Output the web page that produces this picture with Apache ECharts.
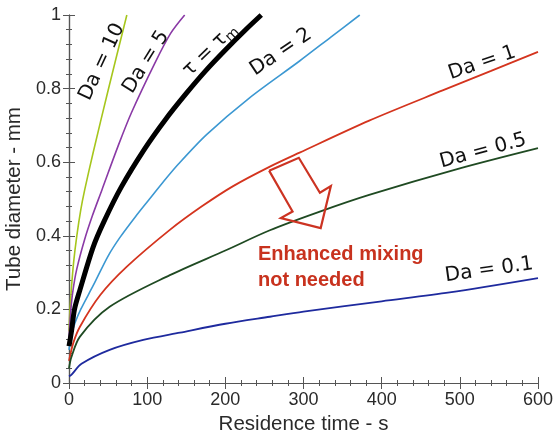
<!DOCTYPE html>
<html><head><meta charset="utf-8">
<script src="https://cdn.jsdelivr.net/npm/echarts@6/dist/echarts.min.js"></script>
<style>html,body{margin:0;padding:0;background:#fff}#c{width:554px;height:432px}</style>
</head><body><div id="c"></div>
<script>
// Residence time (s) vs tube diameter (mm), one [t, d] list per curve
const da10 = [[0,0.14],[1,0.19],[3,0.255],[6,0.33],[10,0.4],[15,0.47],[20,0.524],[31,0.627],[50,0.795],[74,1.0]];
const da5 = [[0,0.12],[2,0.19],[5,0.25],[10,0.31],[20,0.39],[30,0.455],[42,0.524],[63,0.645],[80,0.735],[110,0.87],[130,0.95],[148,1.0]];
const tauM = [[0,0.1],[3.4,0.144],[7,0.2],[14,0.253],[31,0.37],[45,0.44],[67,0.533],[97,0.637],[123,0.715],[150,0.787],[175,0.849],[200,0.905],[225,0.958],[246,1.0]];
const da2 = [[0,0.09],[3,0.13],[8,0.165],[15,0.2],[31,0.265],[50,0.345],[65,0.395],[85,0.452],[103,0.5],[120,0.545],[140,0.595],[176,0.675],[231,0.775],[295,0.875],[335,0.94],[372,1.0]];
const da1 = [[0,0.06],[5.5,0.109],[14,0.153],[40,0.239],[74,0.316],[129,0.416],[170,0.48],[210,0.535],[257,0.588],[295,0.626],[384,0.713],[478,0.795],[540,0.848],[600,0.9]];
const da05 = [[0,0.04],[3,0.07],[14,0.126],[52,0.207],[129,0.293],[200,0.36],[257,0.415],[320,0.465],[384,0.511],[500,0.583],[600,0.638]];
const da01 = [[0,0.018],[3,0.022],[16,0.052],[52,0.09],[95,0.117],[142,0.137],[200,0.161],[257,0.18],[300,0.194],[400,0.222],[487,0.246],[600,0.285]];
const xTicks = [0,100,200,300,400,500,600];
const yTicks = [0,0.2,0.4,0.6,0.8,1];
const curveNames = ['Da = 10','Da = 5','τ = τm','Da = 2','Da = 1','Da = 0.5','Da = 0.1'];
const curveData = [da10, da5, tauM, da2, da1, da05, da01];
const curveColors = ['#a6c61c','#8a3aa6','#000000','#3c98d2','#d4341e','#1f4a22','#1e2a9e'];
const curveWidths = [1.6,1.6,5,1.6,1.8,1.8,1.8];
// arrow outline in data coordinates [t, d]
const arrowPts = [[256,0.577],[294,0.612],[321,0.517],[335,0.535],[322,0.421],[271,0.448],[286,0.466],[256,0.577]];

const chart = echarts.init(document.getElementById('c'));
const axisColor = '#555';
const tickFont = {fontFamily:'Liberation Sans, Arial', fontSize:18, color:'#2a2a2a'};
const nameFont = {fontFamily:'Liberation Sans, Arial', fontSize:20.5, color:'#2a2a2a'};
const series = curveData.map((d,i)=>({
  name: curveNames[i], type:'line', data:d, showSymbol:false, smooth:0.3,
  lineStyle:{color:curveColors[i], width:curveWidths[i]}, z: i===2?3:2, silent:true
}));
const opt = {
  animation:false,
  grid:{left:69,right:16,top:15,bottom:49,containLabel:false,outerBoundsMode:'none'},
  xAxis:[{type:'value',min:0,max:600,interval:100,
    name:'Residence time - s',nameLocation:'middle',nameGap:28,nameTextStyle:nameFont,
    axisLine:{lineStyle:{color:axisColor,width:1.2}},
    axisTick:{inside:true,length:6,lineStyle:{color:axisColor}},
    minorTick:{show:true,splitNumber:5,length:3,lineStyle:{color:axisColor}},
    axisLabel:Object.assign({margin:8,formatter:v=>xTicks.includes(v)?String(v):''},tickFont),
    splitLine:{show:false}},
   {type:'value',position:'top',min:0,max:600,interval:100,
    axisLine:{lineStyle:{color:axisColor,width:1.2}},
    axisTick:{inside:true,length:6,lineStyle:{color:axisColor}},
    minorTick:{show:true,splitNumber:5,length:3,lineStyle:{color:axisColor}},
    axisLabel:{show:false},splitLine:{show:false}}],
  yAxis:[{type:'value',min:0,max:1,interval:0.2,
    name:'Tube diameter - mm',nameLocation:'middle',nameGap:37,nameTextStyle:nameFont,
    axisLine:{show:true,lineStyle:{color:axisColor,width:1.2}},
    axisTick:{show:true,inside:true,length:6,lineStyle:{color:axisColor}},
    minorTick:{show:true,splitNumber:5,length:3,lineStyle:{color:axisColor}},
    axisLabel:Object.assign({margin:8,formatter:v=>{const t=yTicks.find(y=>Math.abs(y-v)<1e-9);return t===undefined?'':String(t);}},tickFont),
    splitLine:{show:false}},
   {type:'value',position:'right',min:0,max:1,interval:0.2,
    axisLine:{show:true,lineStyle:{color:axisColor,width:1.2}},
    axisTick:{show:true,inside:true,length:6,lineStyle:{color:axisColor}},
    minorTick:{show:true,splitNumber:5,length:3,lineStyle:{color:axisColor}},
    axisLabel:{show:false},splitLine:{show:false}}],
  series: series
};
chart.setOption(opt);

const lblFont = '20px "DejaVu Sans", Verdana, sans-serif';
function lbl(text,x,y,deg){
  return {type:'text',x:x,y:y,rotation:deg*Math.PI/180,z:10,
    style:{text:text,font:lblFont,fill:'#111',align:'center',verticalAlign:'middle'}};
}
const arrowPx = arrowPts.map(p=>chart.convertToPixel({xAxisIndex:0,yAxisIndex:0},p));
chart.setOption({graphic:[
  {type:'polyline',shape:{points:arrowPx},style:{stroke:'#cc3322',lineWidth:2.2,fill:null},z:9},
  lbl('Da = 10',102,62,65),
  lbl('Da = 5',146,62,58),
  {type:'text',x:210,y:50,rotation:44*Math.PI/180,z:10,
    style:{rich:{a:{font:lblFont,fill:'#111'},s:{font:'14px "DejaVu Sans", Verdana, sans-serif',fill:'#111',padding:[10,0,0,0]}},
      text:'{a|τ = τ}{s|m}',align:'center',verticalAlign:'middle'}},
  lbl('Da = 2',281,52,34),
  lbl('Da = 1',482,63,19),
  lbl('Da = 0.5',483,151,15),
  lbl('Da = 0.1',489,270,8),
  {type:'text',x:258,y:241,z:10,style:{text:'Enhanced mixing\nnot needed',font:'bold 20px "Liberation Sans", Arial, sans-serif',fill:'#c8321e',lineHeight:26}}
]});
</script></body></html>
